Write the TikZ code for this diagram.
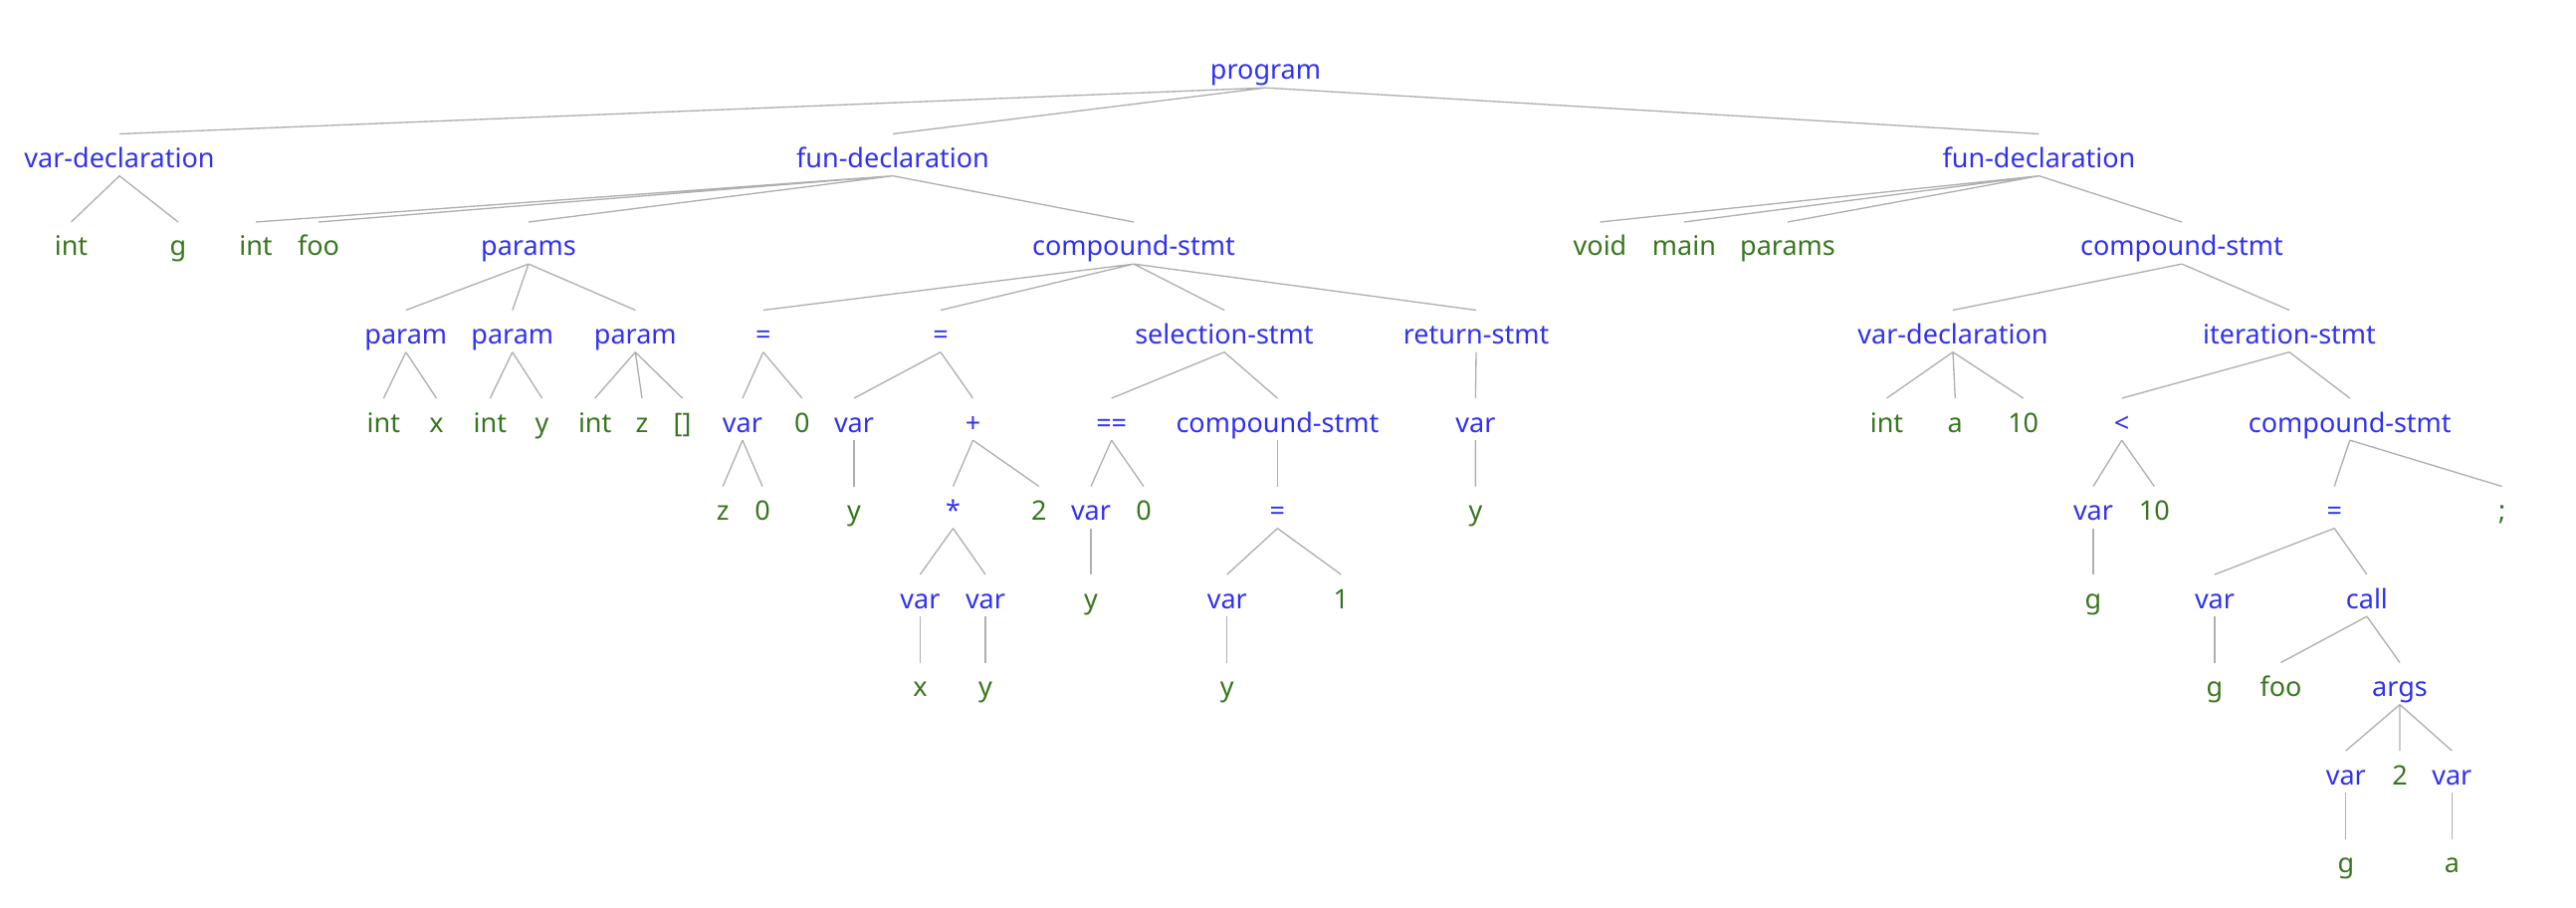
\documentclass[tikz,border=0pt]{standalone}
\usepackage{fontspec}
\setmainfont{Noto Sans}
\usepackage{tikz}

\definecolor{ntblue}{RGB}{48,48,245}
\definecolor{lfgreen}{RGB}{56,118,29}
\definecolor{edgegray}{RGB}{175,175,175}

\tikzset{
	tnode/.style={font=\fontsize{8.1}{9}\selectfont, inner sep=0pt, anchor=base, text height=10pt, text depth=2.25pt},
	nt/.style={tnode, text=ntblue},
	lf/.style={tnode, text=lfgreen},
	tedge/.style={draw=edgegray, line width=.4pt}
}

\begin{document}
\begin{tikzpicture}
	    \begin{scope}[x=.3pt, y=-.3pt]
	      \useasboundingbox (0,0) rectangle (2588,912);
	      % level 0 and 1
	      \node[nt] at (1271.5,80) (prog) {program};
	      \node[nt] at (120,168.5) (vdecA) {var-declaration};
	      \node[nt] at (897,168.5) (fdecA) {fun-declaration};
	      \node[nt] at (2048.5,168.5) (fdecB) {fun-declaration};
	      % level 2
	      \node[lf] at (71.5,257) (intA) {int};
	      \node[lf] at (179,257) (gA) {g};
	      \node[lf] at (257,257) (intB) {int};
	      \node[lf] at (320,257) (foo) {foo};
	      \node[nt] at (531,257) (parA) {params};
	      \node[nt] at (1139,257) (cmpA) {compound-stmt};
	      \node[lf] at (1607.5,257) (void) {void};
	      \node[lf] at (1692,257) (main) {main};
	      \node[lf] at (1796,257) (parB) {params};
	      \node[nt] at (2192,257) (cmpB) {compound-stmt};
	      % level 3
	      \node[nt] at (407.8,345.5) (prmA) {param};
	      \node[nt] at (514.8,345.5) (prmB) {param};
	      \node[nt] at (638.3,345.5) (prmC) {param};
	      \node[nt] at (766.8,345.5) (asgA) {=};
	      \node[nt] at (945,345.5) (asgB) {=};
	      \node[nt] at (1230,345.5) (sel) {selection-stmt};
	      \node[nt] at (1483,345.5) (ret) {return-stmt};
	      \node[nt] at (1962,345.5) (vdecB) {var-declaration};
	      \node[nt] at (2300,345.5) (iter) {iteration-stmt};
	      % level 4
	      \node[lf] at (385.4,434) (intC) {int};
	      \node[lf] at (438.5,434) (xA) {x};
	      \node[lf] at (492.4,434) (intD) {int};
	      \node[lf] at (544.6,434) (yA) {y};
	      \node[lf] at (597.7,434) (intE) {int};
	      \node[lf] at (645,434) (zA) {z};
	      \node[lf] at (685.6,434) (brk) {[]};
	      \node[nt] at (746,434) (varA) {var};
	      \node[lf] at (805.8,434) (zeroA) {0};
	      \node[nt] at (858,434) (varB) {var};
	      \node[nt] at (977.5,434) (plus) {+};
	      \node[nt] at (1116.7,434) (eq) {==};
	      \node[nt] at (1283.4,434) (cmpC) {compound-stmt};
	      \node[nt] at (1482.4,434) (varC) {var};
	      \node[lf] at (1895.5,434) (intF) {int};
	      \node[lf] at (1964.3,434) (aA) {a};
	      \node[lf] at (2032.7,434) (tenA) {10};
	      \node[nt] at (2131.7,434) (lt) {<};
	      \node[nt] at (2360.8,434) (cmpD) {compound-stmt};
	      % level 5
	      \node[lf] at (726.2,522.5) (zB) {z};
	      \node[lf] at (766,522.5) (zeroB) {0};
	      \node[lf] at (858,522.5) (yB) {y};
	      \node[nt] at (957.5,522.5) (star) {*};
	      \node[lf] at (1043.8,522.5) (two) {2};
	      \node[nt] at (1096,522.5) (varD) {var};
	      \node[lf] at (1149,522.5) (zeroC) {0};
	      \node[nt] at (1283.4,522.5) (asgC) {=};
	      \node[lf] at (1482.4,522.5) (yC) {y};
	      \node[nt] at (2103,522.5) (varE) {var};
	      \node[lf] at (2164.3,522.5) (tenB) {10};
	      \node[nt] at (2345.2,522.5) (asgD) {=};
	      \node[lf] at (2513.6,522.5) (semi) {;};
	      % level 6
	      \node[nt] at (924.4,611) (varF) {var};
	      \node[nt] at (990,611) (varG) {var};
	      \node[lf] at (1096,611) (yD) {y};
	      \node[nt] at (1232.8,611) (varH) {var};
	      \node[lf] at (1347.3,611) (one) {1};
	      \node[lf] at (2103,611) (gB) {g};
	      \node[nt] at (2225,611) (varI) {var};
	      \node[nt] at (2377.9,611) (call) {call};
	      % level 7
	      \node[lf] at (924.4,699.5) (xB) {x};
	      \node[lf] at (990,699.5) (yE) {y};
	      \node[lf] at (1232.8,699.5) (yF) {y};
	      \node[lf] at (2225,699.5) (gC) {g};
	      \node[lf] at (2291.5,699.5) (fooB) {foo};
	      \node[nt] at (2411,699.5) (args) {args};
	      % level 8 and 9
	      \node[nt] at (2356.8,788) (varJ) {var};
	      \node[lf] at (2411,788) (twoB) {2};
	      \node[nt] at (2463.3,788) (varK) {var};
	      \node[lf] at (2356.8,876.5) (gD) {g};
	      \node[lf] at (2463.3,876.5) (aB) {a};
	      % edges
	      \draw[tedge] (prog.south) -- (vdecA.north) (prog.south) -- (fdecA.north) (prog.south) -- (fdecB.north);
	      \draw[tedge] (vdecA.south) -- (intA.north) (vdecA.south) -- (gA.north);
	      \draw[tedge] (fdecA.south) -- (intB.north) (fdecA.south) -- (foo.north) (fdecA.south) -- (parA.north) (fdecA.south) -- (cmpA.north);
	      \draw[tedge] (parA.south) -- (prmA.north) (parA.south) -- (prmB.north) (parA.south) -- (prmC.north);
	      \draw[tedge] (prmA.south) -- (intC.north) (prmA.south) -- (xA.north);
	      \draw[tedge] (prmB.south) -- (intD.north) (prmB.south) -- (yA.north);
	      \draw[tedge] (prmC.south) -- (intE.north) (prmC.south) -- (zA.north) (prmC.south) -- (brk.north);
	      \draw[tedge] (cmpA.south) -- (asgA.north) (cmpA.south) -- (asgB.north) (cmpA.south) -- (sel.north) (cmpA.south) -- (ret.north);
	      \draw[tedge] (asgA.south) -- (varA.north) (asgA.south) -- (zeroA.north);
	      \draw[tedge] (varA.south) -- (zB.north) (varA.south) -- (zeroB.north);
	      \draw[tedge] (asgB.south) -- (varB.north) (asgB.south) -- (plus.north);
	      \draw[tedge] (varB.south) -- (yB.north);
	      \draw[tedge] (plus.south) -- (star.north) (plus.south) -- (two.north);
	      \draw[tedge] (star.south) -- (varF.north) (star.south) -- (varG.north);
	      \draw[tedge] (varF.south) -- (xB.north) (varG.south) -- (yE.north);
	      \draw[tedge] (sel.south) -- (eq.north) (sel.south) -- (cmpC.north);
	      \draw[tedge] (eq.south) -- (varD.north) (eq.south) -- (zeroC.north);
	      \draw[tedge] (varD.south) -- (yD.north);
	      \draw[tedge] (cmpC.south) -- (asgC.north);
	      \draw[tedge] (asgC.south) -- (varH.north) (asgC.south) -- (one.north);
	      \draw[tedge] (varH.south) -- (yF.north);
	      \draw[tedge] (ret.south) -- (varC.north) (varC.south) -- (yC.north);
	      \draw[tedge] (fdecB.south) -- (void.north) (fdecB.south) -- (main.north) (fdecB.south) -- (parB.north) (fdecB.south) -- (cmpB.north);
	      \draw[tedge] (cmpB.south) -- (vdecB.north) (cmpB.south) -- (iter.north);
	      \draw[tedge] (vdecB.south) -- (intF.north) (vdecB.south) -- (aA.north) (vdecB.south) -- (tenA.north);
	      \draw[tedge] (iter.south) -- (lt.north) (iter.south) -- (cmpD.north);
	      \draw[tedge] (lt.south) -- (varE.north) (lt.south) -- (tenB.north);
	      \draw[tedge] (varE.south) -- (gB.north);
	      \draw[tedge] (cmpD.south) -- (asgD.north) (cmpD.south) -- (semi.north);
	      \draw[tedge] (asgD.south) -- (varI.north) (asgD.south) -- (call.north);
	      \draw[tedge] (varI.south) -- (gC.north);
	      \draw[tedge] (call.south) -- (fooB.north) (call.south) -- (args.north);
	      \draw[tedge] (args.south) -- (varJ.north) (args.south) -- (twoB.north) (args.south) -- (varK.north);
	      \draw[tedge] (varJ.south) -- (gD.north) (varK.south) -- (aB.north);
	    \end{scope}
	    \end{tikzpicture}
\end{document}
